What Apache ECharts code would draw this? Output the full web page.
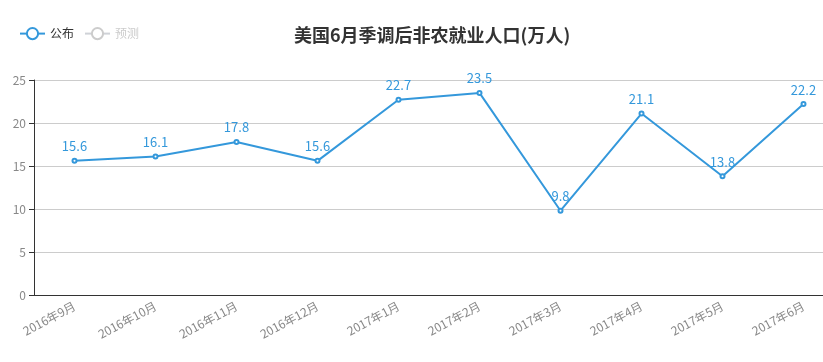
<!DOCTYPE html>
<html><head><meta charset="utf-8">
<script src="https://cdn.jsdelivr.net/npm/echarts@6/dist/echarts.min.js"></script>
<style>html,body{margin:0;padding:0;background:#fff;overflow:hidden;width:823px;height:362px}#c{width:844px;height:362px}</style>
</head><body><div id="c"></div>
<script>
var categories = ['2016年9月','2016年10月','2016年11月','2016年12月','2017年1月','2017年2月','2017年3月','2017年4月','2017年5月','2017年6月'];
var published = [15.6,16.1,17.8,15.6,22.7,23.5,9.8,21.1,13.8,22.2];
var forecast = [];
var yTicks = [0,5,10,15,20,25];
var chart = echarts.init(document.getElementById('c'));
var font = '"Microsoft YaHei","Noto Sans CJK SC",sans-serif';
chart.setOption({
  animation:false,
  textStyle:{fontFamily:font},
  title:{text:'美国6月季调后非农就业人口(万人)',left:289,top:21,textStyle:{fontSize:18,fontWeight:'bold',color:'#333',fontFamily:font}},
  legend:{left:14,top:22,itemWidth:25,itemHeight:14,itemGap:10,data:['公布','预测'],selected:{'预测':false},textStyle:{fontSize:12,color:'#333'},inactiveColor:'#ccc'},
  grid:{left:34,right:0,top:80,height:215,containLabel:false},
  xAxis:{type:'category',data:categories,boundaryGap:true,
    axisLine:{lineStyle:{color:'#333'}},axisTick:{lineStyle:{color:'#333'}},
    axisLabel:{rotate:28,color:'#888',fontSize:12,margin:10,interval:0}},
  yAxis:{type:'value',min:yTicks[0],max:yTicks[yTicks.length-1],interval:5,
    axisLine:{show:true,lineStyle:{color:'#333'}},axisTick:{show:true,lineStyle:{color:'#333'}},
    splitLine:{lineStyle:{color:'#ccc'}},axisLabel:{color:'#888',fontSize:12}},
  series:[
    {name:'公布',type:'line',data:published,symbol:'emptyCircle',symbolSize:4,
      itemStyle:{color:'#3498db'},lineStyle:{width:2,color:'#3498db'},
      label:{show:true,position:'top',color:'#3498db',fontSize:13}},
    {name:'预测',type:'line',data:forecast,symbol:'emptyCircle',symbolSize:4,
      itemStyle:{color:'#bbb'},lineStyle:{color:'#bbb'}}
  ]
});
</script></body></html>
